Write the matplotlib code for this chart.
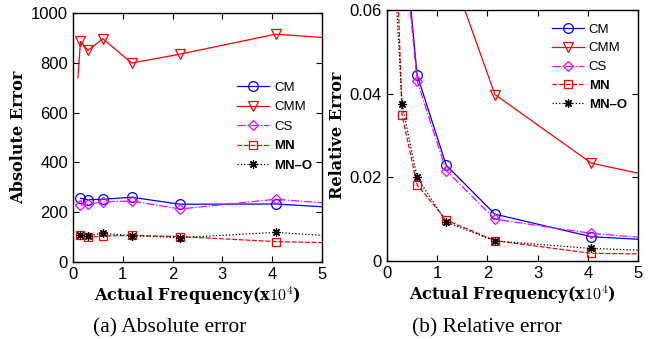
import matplotlib
matplotlib.use("Agg")
import matplotlib.pyplot as plt

plt.rcParams["font.family"] = ["Liberation Sans", "DejaVu Sans"]
plt.rcParams["mathtext.fontset"] = "cm"
plt.rcParams["axes.unicode_minus"] = False

# actual frequency (x10^4)
freq = [0.15, 0.3, 0.6, 1.18, 2.15, 4.07, 5.0]
freq_cmm = [0.1, 0.15, 0.3, 0.6, 1.18, 2.15, 4.07, 5.0]

# absolute error
abs_cm = [256, 250, 252, 260, 232, 233, 222]
abs_cmm = [740, 886, 850, 897, 799, 835, 915, 902]
abs_cs = [229, 232, 242, 245, 213, 252, 238]
abs_mn = [108, 99, 104, 107, 102, 82, 78]
abs_mno = [108, 106, 115, 106, 98, 119, 107]

# relative error
rel_cm = [0.17, 0.083, 0.0445, 0.0229, 0.0112, 0.0058, 0.0052]
rel_cmm = [0.59, 0.28, 0.15, 0.0725, 0.0398, 0.0234, 0.0210]
rel_cs = [0.153, 0.08, 0.0431, 0.0216, 0.0100, 0.0066, 0.0057]
rel_mn = [0.089, 0.0349, 0.0182, 0.0098, 0.00486, 0.00184, 0.0017]
rel_mno = [0.07, 0.0375, 0.0200, 0.0093, 0.0048, 0.0030, 0.0026]

labels = ["CM", "CMM", "CS", "MN", "MN\u2013O"]
styles = [
    dict(color="blue", ls="-", marker="o", ms=7),
    dict(color="red", ls="-", marker="v", ms=7),
    dict(color="magenta", ls="-.", marker="D", ms=5.5),
    dict(color="red", ls="--", marker="s", ms=6),
    dict(color="black", ls=":", marker=(8, 2, 0), ms=6),
]

fig = plt.figure(figsize=(6.64, 3.39), dpi=100)
ax1 = fig.add_axes([0.1099, 0.2271, 0.375, 0.7345])
ax2 = fig.add_axes([0.5828, 0.2301, 0.378, 0.7404])

xlabel = r"Actual Frequency(x$10^4$)"
serif_bold = dict(family="DejaVu Serif", weight="bold", size=11.6)


def draw(ax, xs_list, ys_list, skip_first):
    for (xs, ys), st, lab, sk in zip(zip(xs_list, ys_list), styles, labels, skip_first):
        idx = list(range(sk, len(xs) - 1))  # no marker on the x=5 end point
        ax.plot(xs, ys, label=lab, lw=0.9, markevery=idx, mfc="none", mew=0.9, **st)
    ax.set_xlim(0, 5)
    ax.set_xticks(range(6))
    ax.tick_params(direction="in", top=True, right=True, labelsize=12, length=4, width=0.8)
    for s in ax.spines.values():
        s.set_linewidth(1.0)
    ax.set_xlabel(xlabel, fontdict=serif_bold, labelpad=2)


draw(ax1, [freq, freq_cmm, freq, freq, freq],
     [abs_cm, abs_cmm, abs_cs, abs_mn, abs_mno], [0, 1, 0, 0, 0])
ax1.set_ylim(0, 1000)
ax1.set_yticks(range(0, 1001, 200))
ax1.set_ylabel("Absolute Error", fontdict=serif_bold, labelpad=3)

draw(ax2, [freq] * 5, [rel_cm, rel_cmm, rel_cs, rel_mn, rel_mno], [0, 0, 0, 0, 0])
ax2.set_ylim(0, 0.06)
ax2.set_yticks([0, 0.02, 0.04, 0.06])
ax2.set_yticklabels(["0", "0.02", "0.04", "0.06"])
ax2.set_ylabel("Relative Error", fontdict=serif_bold, labelpad=3)


def legend(ax, anchor, spacing):
    leg = ax.legend(loc="upper left", bbox_to_anchor=anchor, frameon=False,
                    fontsize=9.5, borderpad=0, borderaxespad=0, handlelength=2.4,
                    handletextpad=0.4, labelspacing=spacing)
    for t in leg.get_texts()[3:]:
        t.set_fontweight("bold")
    return leg


legend(ax1, (0.659, 0.725), 0.55)
legend(ax2, (0.657, 0.946), 0.49)

fig.text(0.256, 0.033, "(a) Absolute error", family="Liberation Serif", size=15.5,
         ha="center", va="center")
fig.text(0.733, 0.033, "(b) Relative error", family="Liberation Serif", size=15.5,
         ha="center", va="center")

fig.savefig("out.png", dpi=100)
